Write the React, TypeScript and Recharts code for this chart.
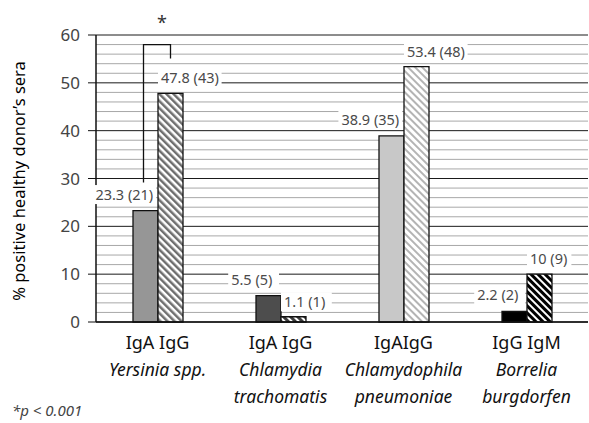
import React from 'react';
import { BarChart, Bar, XAxis, YAxis, CartesianGrid, Cell } from 'recharts';

const categories = ['Yersinia spp.', 'Chlamydia trachomatis', 'Chlamydophila pneumoniae', 'Borrelia burgdorfen'];
const antibodyLabels = ['IgA IgG', 'IgA IgG', 'IgAIgG', 'IgG IgM'];
const organismLines = [['Yersinia spp.'], ['Chlamydia', 'trachomatis'], ['Chlamydophila', 'pneumoniae'], ['Borrelia', 'burgdorfen']];

// percent positive (number of sera)
const firstValues = [23.3, 5.5, 38.9, 2.2];
const firstCounts = [21, 5, 35, 2];
const secondValues = [47.8, 1.1, 53.4, 10];
const secondCounts = [43, 1, 48, 9];

// every gridline; labelled ticks are the multiples of 10
const gridTicks = [0, 2, 4, 6, 8, 10, 12, 14, 16, 18, 20, 22, 24, 26, 28, 30, 32, 34, 36, 38, 40, 42, 44, 46, 48, 50, 52, 54, 56, 58, 60];
const majorStep = 10;

// significance bracket over Yersinia
const bracketCategory = 0;
const bracketValue = 58;
const bracketMark = '*';

const firstFills = ['#969696', '#4d4d4d', '#c8c8c8', '#000000'];
const secondFills = ['url(#hatchMid)', 'url(#hatchDark)', 'url(#hatchLight)', 'url(#hatchBlack)'];

const data = categories.map((c, i) => ({
  name: c,
  first: firstValues[i],
  second: secondValues[i],
}));

const FONT = '"Noto Sans", sans-serif';
const LABEL_SIZE = 14.5;
const CHAR_W = 6.4;

const labelBox = (text: string, xStart: number, cy: number) => {
  const w = text.length * CHAR_W;
  return (
    <g>
      <rect x={xStart - 3} y={cy - 9.5} width={w + 6} height={19} fill="#fff" />
      <text x={xStart} y={cy + 5} fontSize={LABEL_SIZE} fill="#4a4a4a" fontFamily={FONT}>
        {text}
      </text>
    </g>
  );
};

const FirstLabel = (props: any) => {
  const vb = props.viewBox || props;
  const { x, y, width } = vb;
  const i = props.index;
  const text = `${firstValues[i]} (${firstCounts[i]})`;
  const w = text.length * CHAR_W;
  return labelBox(text, x + width - 5 - w, y - 16);
};

const SecondLabel = (props: any) => {
  const vb = props.viewBox || props;
  const { x, y, width, height } = vb;
  const i = props.index;
  const text = `${secondValues[i]} (${secondCounts[i]})`;
  const parts = [<g key="lbl">{labelBox(text, x + 3, y - 15)}</g>];
  if (i === bracketCategory) {
    const ppu = height / secondValues[i];
    const base = y + height;
    const by = base - bracketValue * ppu;
    const leftX = x - width / 2 - 2;
    const rightX = x + width / 2;
    const aTop = base - firstValues[i] * ppu;
    parts.push(
      <g key="bracket">
        <path
          d={`M${leftX},${aTop - 28} L${leftX},${by} L${rightX},${by} L${rightX},${by + 14}`}
          fill="none"
          stroke="#111"
          strokeWidth={1.3}
        />
        <text x={(leftX + rightX) / 2 + 5} y={by - 16} textAnchor="middle" fontSize={18} fill="#333" fontFamily={FONT}>
          {bracketMark}
        </text>
      </g>
    );
  }
  return <g>{parts}</g>;
};

// gridline: black on the labelled values, grey in between
const GridLine = (props: any) => {
  const { x1, x2, y1, y2, index } = props;
  const major = gridTicks[index] % majorStep === 0;
  return (
    <line
      key={`g${index}`}
      x1={x1}
      x2={x2}
      y1={y1}
      y2={y2}
      stroke={major ? '#1a1a1a' : '#a8a8a8'}
      strokeWidth={1}
    />
  );
};

const ValueTick = (props: any) => {
  const { x, y, payload } = props;
  if (payload.value % majorStep !== 0) return <g />;
  return (
    <g>
      <line x1={x + 8} x2={x + 16} y1={y} y2={y} stroke="#111" strokeWidth={1} />
      <text x={x} y={y + 6} textAnchor="end" fontSize={17} fill="#444" fontFamily={FONT}>
        {payload.value}
      </text>
    </g>
  );
};

const CategoryTick = (props: any) => {
  const { x, y, payload } = props;
  const i = payload.index ?? categories.indexOf(payload.value);
  return (
    <g>
      <text x={x} y={y + 27} textAnchor="middle" fontSize={18} fill="#111" fontFamily={FONT}>
        {antibodyLabels[i]}
      </text>
      {organismLines[i].map((line, k) => (
        <text
          key={k}
          x={x}
          y={y + 54 + k * 27}
          textAnchor="middle"
          fontSize={17.5}
          fontStyle="italic"
          fill="#111"
          fontFamily={FONT}
        >
          {line}
        </text>
      ))}
    </g>
  );
};

const YLabel = () => (
  <text
    x={18}
    y={181}
    transform="rotate(-90 18 181)"
    textAnchor="middle"
    dominantBaseline="central"
    fontSize={16.5}
    fill="#000"
    fontFamily={FONT}
  >
    % positive healthy donor’s sera
  </text>
);

const stripe = (id: string, color: string, sw: number) => (
  <pattern id={id} patternUnits="userSpaceOnUse" width={5} height={5} patternTransform="rotate(-45)">
    <rect x={0} y={0} width={5} height={5} fill="#fff" />
    <rect x={0} y={0} width={sw} height={5} fill={color} />
  </pattern>
);

export default function App() {
  return (
    <div style={{ position: 'absolute', left: 0, top: 0, width: 589, height: 423, background: '#fff' }}>
      <BarChart
        width={589}
        height={423}
        data={data}
        margin={{ top: 35, right: 1, bottom: 0, left: 0 }}
        barSize={25}
        barGap={0}
      >
        <defs>
          {stripe('hatchMid', '#6e6e6e', 2.5)}
          {stripe('hatchDark', '#3c3c3c', 3)}
          {stripe('hatchLight', '#b4b4b4', 2)}
          {stripe('hatchBlack', '#000', 3)}
        </defs>
        <CartesianGrid vertical={false} horizontal={GridLine} />
        <XAxis
          dataKey="name"
          tickLine={false}
          tickSize={0}
          tickMargin={0}
          height={101}
          interval={0}
          axisLine={{ stroke: '#111', strokeWidth: 1.3 }}
          tick={<CategoryTick />}
        />
        <YAxis
          domain={[0, 60]}
          ticks={gridTicks}
          interval={0}
          width={96}
          tickSize={8}
          tickMargin={8}
          tickLine={false}
          axisLine={{ stroke: '#111', strokeWidth: 1.5 }}
          tick={<ValueTick />}
          label={<YLabel />}
        />
        <Bar dataKey="first" isAnimationActive={false} stroke="#111" strokeWidth={1.3} label={<FirstLabel />}>
          {data.map((_, i) => (
            <Cell key={i} fill={firstFills[i]} />
          ))}
        </Bar>
        <Bar dataKey="second" isAnimationActive={false} stroke="#111" strokeWidth={1.3} label={<SecondLabel />}>
          {data.map((_, i) => (
            <Cell key={i} fill={secondFills[i]} />
          ))}
        </Bar>
      </BarChart>
      <div
        style={{
          position: 'absolute',
          left: 12,
          top: 400,
          fontFamily: FONT,
          fontStyle: 'italic',
          fontSize: 15,
          color: '#444',
        }}
      >
        *p &lt; 0.001
      </div>
    </div>
  );
}
